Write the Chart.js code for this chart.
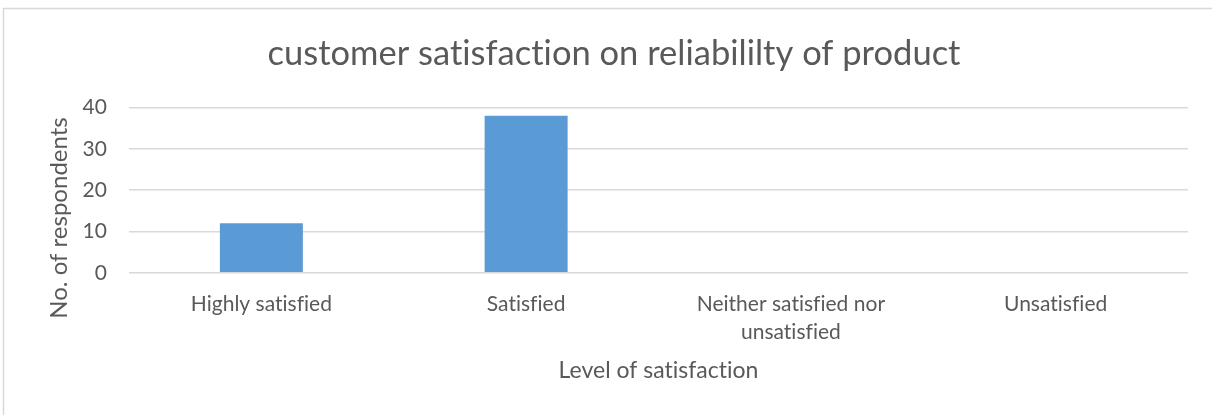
<!DOCTYPE html>
<html>
<head>
<meta charset="utf-8">
<script src="https://cdn.jsdelivr.net/npm/chart.js@4.4.1/dist/chart.umd.min.js"></script>
<style>
  html, body { margin: 0; padding: 0; background: #fff; }
  #wrap { width: 1212px; height: 415px; position: relative; }
</style>
</head>
<body>
<div id="wrap"><canvas id="chart"></canvas></div>
<script>
// --- Data ---
const categories = ["Highly satisfied", "Satisfied", ["Neither satisfied nor", "unsatisfied"], "Unsatisfied"];
const respondents = [12, 38, 0, 0];
const yTicks = [0, 10, 20, 30, 40];

const chartTitle = "customer satisfaction on reliabililty of product";
const xTitle = "Level of satisfaction";
const yTitle = "No. of respondents";

const TEXT = "#595959";
const GRID = "#d9d9d9";
const BAR = "#5b9bd5";
const FONT = "Lato";
const WEIGHT = "normal";

// tiny letter spacing stops the fi ligature (the original has none)
const noLigatures = (chart) => { chart.ctx.letterSpacing = "0.01px"; };

// frame round the chart (only left and top edges are in view)
const framePlugin = {
  id: "frame",
  beforeUpdate: noLigatures,
  beforeDraw(chart) {
    noLigatures(chart);
    const ctx = chart.ctx;
    ctx.save();
    ctx.strokeStyle = GRID;
    ctx.lineWidth = 1.5;
    ctx.strokeRect(3.5, 8.5, 1260, 460);
    ctx.restore();
  }
};

// y axis title, centred a bit lower than the plot, like the original
const yTitlePlugin = {
  id: "yTitle",
  afterDraw(chart) {
    const ctx = chart.ctx;
    ctx.save();
    ctx.translate(67, 218);
    ctx.rotate(-Math.PI / 2);
    ctx.font = WEIGHT + " 24px " + FONT;
    ctx.fillStyle = TEXT;
    ctx.textAlign = "center";
    ctx.textBaseline = "alphabetic";
    ctx.fillText(yTitle, 0, 0);
    ctx.restore();
  }
};

new Chart(document.getElementById("chart").getContext("2d"), {
  type: "bar",
  data: {
    labels: categories,
    datasets: [{
      data: respondents,
      backgroundColor: BAR,
      borderWidth: 0,
      categoryPercentage: 1,
      barPercentage: 0.3135
    }]
  },
  options: {
    responsive: true,
    maintainAspectRatio: false,
    animation: false,
    events: [],
    layout: { padding: { left: 40, right: 24, top: 33, bottom: 31 } },
    plugins: {
      legend: { display: false },
      tooltip: { enabled: false },
      title: {
        display: true,
        text: chartTitle,
        color: TEXT,
        font: { family: FONT, size: 34.5, weight: WEIGHT },
        padding: { top: 0, bottom: 33 }
      }
    },
    scales: {
      x: {
        grid: { display: false, drawTicks: false },
        border: { display: false },
        ticks: {
          color: TEXT,
          font: { family: FONT, size: 21, weight: WEIGHT, lineHeight: 1.3 },
          padding: 18,
          maxRotation: 0,
          autoSkip: false
        },
        title: {
          display: true,
          text: xTitle,
          color: TEXT,
          font: { family: FONT, size: 23, weight: WEIGHT },
          padding: { top: -7, bottom: 0 }
        }
      },
      y: {
        min: 0,
        max: 40,
        afterFit(scale) { scale.width = 89; },
        afterBuildTicks(scale) { scale.ticks = yTicks.map(v => ({ value: v })); },
        grid: { color: GRID, lineWidth: 1.5, drawTicks: false },
        border: { display: false },
        ticks: {
          color: TEXT,
          font: { family: FONT, size: 21, weight: WEIGHT },
          padding: 22
        }
      }
    }
  },
  plugins: [framePlugin, yTitlePlugin]
});
</script>
</body>
</html>
